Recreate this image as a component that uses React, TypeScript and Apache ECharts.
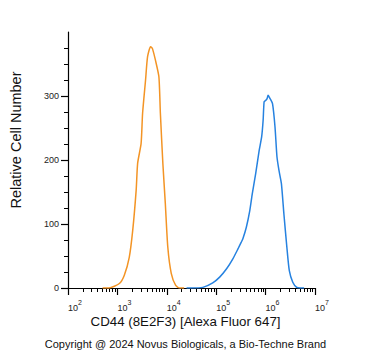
import React, { useEffect, useRef } from "react";
import * as echarts from "echarts";

// log10 fluorescence intensity and relative cell counts
const isotypeLog = [2.70, 2.83, 3.04, 3.14, 3.24, 3.31, 3.38, 3.41, 3.48, 3.51, 3.57, 3.61, 3.67, 3.69, 3.71, 3.77, 3.84, 3.87, 3.92, 3.97, 4.02, 4.09, 4.18, 4.26, 4.35];
const isotypeCount = [0, 0, 7, 20, 48, 90, 153, 195, 226, 273, 325, 361, 377, 376, 374, 356, 330, 273, 195, 132, 64, 23, 4, 0, 0];

const cd44Log = [4.40, 4.49, 4.73, 4.93, 5.07, 5.21, 5.34, 5.44, 5.51, 5.54, 5.61, 5.68, 5.73, 5.80, 5.87, 5.92, 5.95, 5.97, 6.00, 6.03, 6.05, 6.09, 6.14, 6.19, 6.23, 6.27, 6.32, 6.37, 6.43, 6.48, 6.55, 6.63, 6.70, 6.78];
const cd44Count = [0, 0, 1, 8, 17, 30, 46, 61, 72, 77, 95, 121, 147, 179, 215, 236, 262, 291, 293, 296, 301, 296, 288, 252, 205, 184, 163, 116, 64, 27, 9, 1, 0, 0];

const xMajor = [2, 3, 4, 5, 6, 7];
const yMajor = [0, 100, 200, 300];

const xMinor: number[] = [];
for (let d = 2; d < 7; d++) for (let k = 2; k <= 9; k++) xMinor.push(d + Math.log10(k));
const yMinor: number[] = [];
for (let v = 25; v < 400; v += 25) if (v % 100 !== 0) yMinor.push(v);

const FONT = "Liberation Sans, Arial, sans-serif";

export default function App() {
  const ref = useRef<HTMLDivElement>(null);
  useEffect(() => {
    if (!ref.current) return;
    const chart = echarts.init(ref.current, undefined, { renderer: "svg" });
    const axisLine = { show: true, onZero: false, lineStyle: { color: "#000", width: 1.2 } };
    chart.setOption({
      animation: false,
      backgroundColor: "#fff",
      grid: { left: 68, right: 56, top: 32, bottom: 63, containLabel: false },
      xAxis: [
        {
          type: "value", min: 2, max: 7, interval: 1,
          axisLine,
          axisTick: { show: true, length: 7, customValues: xMajor, lineStyle: { color: "#000", width: 1.2 } },
          splitLine: { show: false },
          axisLabel: {
            customValues: xMajor,
            align: "left",
            margin: 11,
            formatter: (v: number) => `{b|10}{s|${Math.round(v)}}`,
            rich: {
              b: { fontFamily: FONT, fontSize: 9, color: "#222", verticalAlign: "bottom", padding: [4, 0, 0, 0] },
              s: { fontFamily: FONT, fontSize: 7, color: "#222", verticalAlign: "top", padding: [0, 0, 4, 0] },
            },
          },
        },
        {
          type: "value", min: 2, max: 7, position: "bottom",
          axisLine: { show: false, onZero: false },
          axisTick: { show: true, length: 4, customValues: xMinor, lineStyle: { color: "#000", width: 1 } },
          axisLabel: { show: false },
          splitLine: { show: false },
        },
      ],
      yAxis: [
        {
          type: "value", min: 0, max: 400, interval: 100,
          axisLine,
          axisTick: { show: true, length: 7, customValues: yMajor, lineStyle: { color: "#000", width: 1.2 } },
          splitLine: { show: false },
          axisLabel: { customValues: yMajor, margin: 9, fontFamily: FONT, fontSize: 9, color: "#222" },
        },
        {
          type: "value", min: 0, max: 400, position: "left",
          axisLine: { show: false, onZero: false },
          axisTick: { show: true, length: 4, customValues: yMinor, lineStyle: { color: "#000", width: 1 } },
          axisLabel: { show: false },
          splitLine: { show: false },
        },
      ],
      series: [
        {
          type: "line", xAxisIndex: 0, yAxisIndex: 0, showSymbol: false, smooth: 0.2,
          lineStyle: { color: "#F39425", width: 1.5 },
          data: isotypeLog.map((x, i) => [x, isotypeCount[i]]),
        },
        {
          type: "line", xAxisIndex: 0, yAxisIndex: 0, showSymbol: false, smooth: 0.2,
          lineStyle: { color: "#2682E0", width: 1.5 },
          data: cd44Log.map((x, i) => [x, cd44Count[i]]),
        },
      ],
      graphic: [
        {
          type: "text", left: "center", top: 315,
          style: { text: "CD44 (8E2F3) [Alexa Fluor 647]", fontFamily: FONT, fontSize: 13.3, fill: "#111" },
        },
        {
          type: "text", left: "center", top: 338,
          style: { text: "Copyright @ 2024 Novus Biologicals, a Bio-Techne Brand", fontFamily: FONT, fontSize: 11, fill: "#111" },
        },
        {
          type: "text", x: 16, y: 140, rotation: Math.PI / 2,
          style: { text: "Relative Cell Number", fontFamily: FONT, fontSize: 14.5, fill: "#111", align: "center", verticalAlign: "middle" },
        },
      ],
    });
    return () => chart.dispose();
  }, []);
  return <div ref={ref} style={{ width: 371, height: 351, position: "absolute", left: 0, top: 0 }} />;
}
